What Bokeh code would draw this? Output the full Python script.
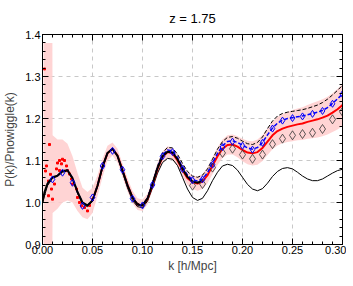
from bokeh.plotting import figure
from bokeh.models import (Range1d, LinearAxis, FixedTicker, PrintfTickFormatter, Title)
from bokeh.embed import file_html
from bokeh.resources import INLINE

# ---------------- data ----------------
title_text = "z = 1.75"
x_label = "k [h/Mpc]"
y_label = "P(k)/Pnowiggle(k)"
x_ticks = [0.0, 0.05, 0.10, 0.15, 0.20, 0.25, 0.30]
y_ticks = [0.9, 1.0, 1.1, 1.2, 1.3, 1.4]

# linear theory (thin black)
lin_k = [0.000, 0.005, 0.010, 0.015, 0.020, 0.025, 0.030, 0.035, 0.040, 0.045,
         0.050, 0.055, 0.060, 0.065, 0.070, 0.075, 0.080, 0.085, 0.090, 0.095,
         0.100, 0.105, 0.110, 0.115, 0.120, 0.125, 0.130, 0.135, 0.140, 0.145,
         0.150, 0.155, 0.160, 0.165, 0.170, 0.175, 0.180, 0.185, 0.190, 0.195,
         0.200, 0.205, 0.210, 0.215, 0.220, 0.225, 0.230, 0.235, 0.240, 0.245,
         0.250, 0.255, 0.260, 0.265, 0.270, 0.275, 0.280, 0.285, 0.290, 0.295, 0.300]
lin_v = [1.000, 1.040, 1.058, 1.062, 1.072, 1.075, 1.056, 1.022, 0.996, 0.990,
         1.003, 1.038, 1.083, 1.117, 1.128, 1.110, 1.072, 1.035, 1.005, 0.990,
         0.988, 1.003, 1.035, 1.070, 1.095, 1.105, 1.103, 1.088, 1.060, 1.032,
         1.012, 1.005, 1.010, 1.028, 1.052, 1.072, 1.087, 1.091, 1.088, 1.077,
         1.060, 1.043, 1.032, 1.028, 1.033, 1.046, 1.062, 1.074, 1.081, 1.083,
         1.080, 1.072, 1.063, 1.056, 1.052, 1.052, 1.056, 1.063, 1.070, 1.076, 1.079]

# nonlinear model (thick black)
nl_k = [0.000, 0.002, 0.005, 0.010, 0.015, 0.020, 0.025, 0.030, 0.035, 0.040,
        0.045, 0.050, 0.055, 0.060, 0.065, 0.070, 0.075, 0.080, 0.085, 0.090,
        0.095, 0.100, 0.105, 0.110, 0.115, 0.120, 0.125, 0.130, 0.135, 0.140,
        0.145, 0.150, 0.155, 0.160]
nl_v = [1.000, 1.025, 1.045, 1.060, 1.064, 1.075, 1.077, 1.058, 1.025, 1.000,
        0.993, 1.005, 1.040, 1.085, 1.118, 1.128, 1.111, 1.076, 1.041, 1.012,
        0.995, 0.993, 1.009, 1.044, 1.082, 1.110, 1.121, 1.119, 1.103, 1.080,
        1.061, 1.050, 1.047, 1.052]

# simulation mean (red line)
red_k = [0.050, 0.055, 0.060, 0.065, 0.070, 0.075, 0.080, 0.085, 0.090, 0.095,
         0.100, 0.105, 0.110, 0.115, 0.120, 0.125, 0.130, 0.135, 0.140, 0.145,
         0.150, 0.155, 0.160, 0.165, 0.170, 0.175, 0.180, 0.185, 0.190, 0.195,
         0.200, 0.205, 0.210, 0.215, 0.220, 0.225, 0.230, 0.235, 0.240, 0.245,
         0.250, 0.255, 0.260, 0.265, 0.270, 0.275, 0.280, 0.285, 0.290, 0.295, 0.300]
red_v = [1.005, 1.040, 1.085, 1.117, 1.128, 1.112, 1.077, 1.042, 1.012, 0.995,
         0.993, 1.008, 1.042, 1.080, 1.108, 1.120, 1.117, 1.100, 1.077, 1.058,
         1.048, 1.045, 1.050, 1.065, 1.088, 1.110, 1.128, 1.137, 1.138, 1.133,
         1.125, 1.119, 1.117, 1.120, 1.130, 1.145, 1.160, 1.170, 1.176, 1.180,
         1.183, 1.186, 1.188, 1.192, 1.195, 1.198, 1.202, 1.207, 1.214, 1.222, 1.232]

# simulation at low k (red points)
dots_k = [0.002, 0.003, 0.004, 0.006, 0.006, 0.007, 0.008, 0.009, 0.010, 0.012,
          0.014, 0.015, 0.017, 0.017, 0.019, 0.020, 0.022, 0.024, 0.025, 0.027,
          0.029, 0.030, 0.034, 0.035, 0.037, 0.039, 0.042, 0.045, 0.047, 0.050]
dots_v = [1.318, 1.075, 1.087, 1.051, 1.016, 1.138, 1.067, 1.032, 1.008, 1.044,
          1.080, 1.094, 1.100, 1.076, 1.092, 1.103, 1.100, 1.087, 1.076, 1.068,
          1.056, 1.044, 1.032, 1.012, 1.000, 0.992, 0.988, 0.980, 0.993, 1.007]

# error band (pink)
band_k = [0.001, 0.0099, 0.0101, 0.015, 0.020, 0.025, 0.030, 0.035, 0.040, 0.045,
          0.050, 0.055, 0.060, 0.065, 0.070, 0.075, 0.080, 0.085, 0.090, 0.095,
          0.100, 0.105, 0.110, 0.115, 0.120, 0.125, 0.130, 0.135, 0.140, 0.145,
          0.150, 0.155, 0.160, 0.165, 0.170, 0.175, 0.180, 0.185, 0.190, 0.195,
          0.200, 0.205, 0.210, 0.215, 0.220, 0.225, 0.230, 0.235, 0.240, 0.245,
          0.250, 0.255, 0.260, 0.265, 0.270, 0.275, 0.280, 0.285, 0.290, 0.295, 0.300]
band_lo = [0.900, 0.900, 0.975, 0.985, 1.000, 1.005, 1.000, 0.980, 0.965, 0.960,
           0.975, 1.015, 1.060, 1.100, 1.112, 1.095, 1.060, 1.026, 0.998, 0.982,
           0.980, 0.995, 1.029, 1.066, 1.094, 1.106, 1.103, 1.085, 1.062, 1.042,
           1.032, 1.028, 1.032, 1.046, 1.068, 1.089, 1.106, 1.114, 1.114, 1.108,
           1.098, 1.091, 1.088, 1.090, 1.099, 1.113, 1.127, 1.136, 1.141, 1.144,
           1.146, 1.148, 1.149, 1.152, 1.153, 1.155, 1.158, 1.162, 1.168, 1.174, 1.182]
band_hi = [1.380, 1.380, 1.160, 1.150, 1.150, 1.140, 1.110, 1.070, 1.035, 1.025,
           1.035, 1.065, 1.105, 1.135, 1.143, 1.128, 1.093, 1.058, 1.028, 1.010,
           1.007, 1.021, 1.055, 1.094, 1.122, 1.134, 1.131, 1.115, 1.092, 1.074,
           1.064, 1.062, 1.068, 1.084, 1.108, 1.131, 1.150, 1.160, 1.162, 1.158,
           1.152, 1.147, 1.146, 1.150, 1.161, 1.177, 1.193, 1.204, 1.211, 1.216,
           1.220, 1.224, 1.227, 1.232, 1.237, 1.241, 1.246, 1.252, 1.260, 1.270, 1.282]

# blue dashed model
blue_k = [0.005, 0.010, 0.015, 0.020, 0.025, 0.030, 0.035, 0.040, 0.045, 0.050,
          0.055, 0.060, 0.065, 0.070, 0.075, 0.080, 0.085, 0.090, 0.095, 0.100,
          0.105, 0.110, 0.115, 0.120, 0.125, 0.130, 0.135, 0.140, 0.145, 0.150,
          0.155, 0.160, 0.165, 0.170, 0.175, 0.180, 0.185, 0.190, 0.195, 0.200,
          0.205, 0.210, 0.215, 0.220, 0.225, 0.230, 0.235, 0.240, 0.245, 0.250,
          0.255, 0.260, 0.265, 0.270, 0.275, 0.280, 0.285, 0.290, 0.295, 0.300]
blue_v = [1.045, 1.060, 1.064, 1.075, 1.077, 1.058, 1.025, 1.000, 0.993, 1.005,
          1.040, 1.085, 1.118, 1.128, 1.111, 1.076, 1.041, 1.012, 0.995, 0.994,
          1.010, 1.045, 1.083, 1.113, 1.125, 1.123, 1.107, 1.084, 1.065, 1.054,
          1.051, 1.056, 1.071, 1.094, 1.117, 1.135, 1.145, 1.147, 1.143, 1.136,
          1.130, 1.127, 1.131, 1.143, 1.161, 1.177, 1.189, 1.196, 1.200, 1.202,
          1.204, 1.206, 1.209, 1.212, 1.215, 1.219, 1.226, 1.236, 1.247, 1.258]

# black dashed model
bd_k = [0.090, 0.095, 0.100, 0.105, 0.110, 0.115, 0.120, 0.125, 0.130, 0.135,
        0.140, 0.145, 0.150, 0.155, 0.160, 0.165, 0.170, 0.175, 0.180, 0.185,
        0.190, 0.195, 0.200, 0.205, 0.210, 0.215, 0.220, 0.225, 0.230, 0.235,
        0.240, 0.245, 0.250, 0.255, 0.260, 0.265, 0.270, 0.275, 0.280, 0.285,
        0.290, 0.295, 0.300]
bd_v = [1.014, 0.998, 0.996, 1.012, 1.047, 1.087, 1.118, 1.131, 1.130, 1.115,
        1.093, 1.074, 1.063, 1.060, 1.065, 1.080, 1.103, 1.127, 1.145, 1.155,
        1.157, 1.153, 1.146, 1.140, 1.138, 1.143, 1.156, 1.176, 1.194, 1.206,
        1.212, 1.215, 1.217, 1.219, 1.221, 1.224, 1.228, 1.232, 1.238, 1.246,
        1.256, 1.267, 1.279]

# blue diamonds
bdia_k = [0.01, 0.02, 0.03, 0.04, 0.05, 0.06, 0.07, 0.08, 0.09, 0.10,
          0.11, 0.12, 0.13, 0.14, 0.15, 0.16, 0.17, 0.18, 0.19, 0.20,
          0.21, 0.22, 0.23, 0.24, 0.25, 0.26, 0.27, 0.28, 0.29, 0.30]
bdia_v = [1.055, 1.071, 1.047, 0.992, 1.012, 1.087, 1.123, 1.078, 1.009, 0.993,
          1.042, 1.110, 1.120, 1.080, 1.053, 1.055, 1.090, 1.132, 1.145, 1.135,
          1.126, 1.142, 1.176, 1.195, 1.201, 1.205, 1.211, 1.218, 1.235, 1.258]

# black (open) diamonds
kdia_k = [0.15, 0.16, 0.17, 0.18, 0.19, 0.20, 0.21, 0.22, 0.23, 0.24,
          0.25, 0.26, 0.27, 0.28, 0.29, 0.30]
kdia_v = [1.040, 1.044, 1.083, 1.118, 1.128, 1.114, 1.104, 1.114, 1.139, 1.152,
          1.160, 1.163, 1.166, 1.175, 1.198, 1.216]

# ---------------- figure ----------------
FONT = "Liberation Sans"

p = figure(frame_width=300, frame_height=210, output_backend="svg", toolbar_location=None,
           x_range=Range1d(0.0, 0.30), y_range=Range1d(0.9, 1.4),
           min_border_left=33, min_border_right=4, min_border_top=29, min_border_bottom=30)
p.title = Title(text=title_text, align="center", text_font=FONT,
                text_font_size="13px", text_font_style="normal", text_color="black",
                standoff=17)
p.outline_line_color = "black"
p.background_fill_color = "white"
p.border_fill_color = "white"

x_minor = [round(i * 0.01, 2) for i in range(0, 31)]
y_minor = [round(0.9 + i * 0.02, 2) for i in range(0, 26)]

def style_axis(ax):
    ax.axis_line_color = "black"
    ax.major_tick_in = 6
    ax.major_tick_out = 0
    ax.minor_tick_in = 3
    ax.minor_tick_out = 0
    ax.major_tick_line_color = "black"
    ax.minor_tick_line_color = "black"
    ax.major_label_text_font = FONT
    ax.major_label_text_font_size = "11px"
    ax.major_label_text_color = "black"
    ax.axis_label_text_font = FONT
    ax.axis_label_text_font_size = "12px"
    ax.axis_label_text_font_style = "normal"

xt = FixedTicker(ticks=x_ticks, minor_ticks=x_minor)
yt = FixedTicker(ticks=y_ticks, minor_ticks=y_minor)

p.xaxis.ticker = xt
p.yaxis.ticker = yt
p.xaxis.formatter = PrintfTickFormatter(format="%.2f")
p.yaxis.formatter = PrintfTickFormatter(format="%.1f")
p.xaxis.axis_label = x_label
p.yaxis.axis_label = y_label
style_axis(p.xaxis[0])
style_axis(p.yaxis[0])
p.xaxis.major_label_standoff = 1
p.yaxis.major_label_standoff = 2
p.xaxis.axis_label_standoff = 2
p.yaxis.axis_label_standoff = 5

top_ax = LinearAxis(ticker=FixedTicker(ticks=x_ticks, minor_ticks=x_minor))
right_ax = LinearAxis(ticker=FixedTicker(ticks=y_ticks, minor_ticks=y_minor))
style_axis(top_ax)
style_axis(right_ax)
# top axis: invisible labels that still reserve a few pixels of space
top_ax.major_label_text_alpha = 0
top_ax.major_label_text_font_size = "1px"
top_ax.major_label_standoff = 4
top_ax.axis_label_standoff = 0
# right axis: no labels
right_ax.major_label_text_color = None
right_ax.major_label_text_font_size = "1px"
right_ax.major_label_standoff = 0
right_ax.axis_label_standoff = 0
p.add_layout(top_ax, "above")
p.add_layout(right_ax, "right")

p.xgrid.ticker = FixedTicker(ticks=x_ticks)
p.ygrid.ticker = FixedTicker(ticks=y_ticks)
for g in (p.xgrid[0], p.ygrid[0]):
    g.grid_line_color = "#c8c8c8"
    g.grid_line_dash = "4 4"
    g.grid_line_width = 1

# band
p.varea(x=band_k, y1=band_lo, y2=band_hi, fill_color="#ffcccc", fill_alpha=0.85)

# linear theory
p.line(lin_k, lin_v, line_color="black", line_width=1)
# black dashed
p.line(bd_k, bd_v, line_color="black", line_width=1, line_dash="4 2")
# red
p.line(red_k, red_v, line_color="red", line_width=2)
p.scatter(dots_k, dots_v, marker="square", size=2, fill_color="red", line_color="red")
# blue dashed
p.line(blue_k, blue_v, line_color="blue", line_width=1.5, line_dash="4 2")
# nonlinear thick black
p.line(nl_k, nl_v, line_color="black", line_width=2)
# diamonds
p.scatter(kdia_k, kdia_v, marker="diamond", size=9, fill_color=None,
          line_color="#333333", line_width=0.8)
p.scatter(bdia_k, bdia_v, marker="diamond", size=7, fill_color=None,
          line_color="blue", line_width=1)

open("out.html", "w").write(file_html(p, INLINE))
